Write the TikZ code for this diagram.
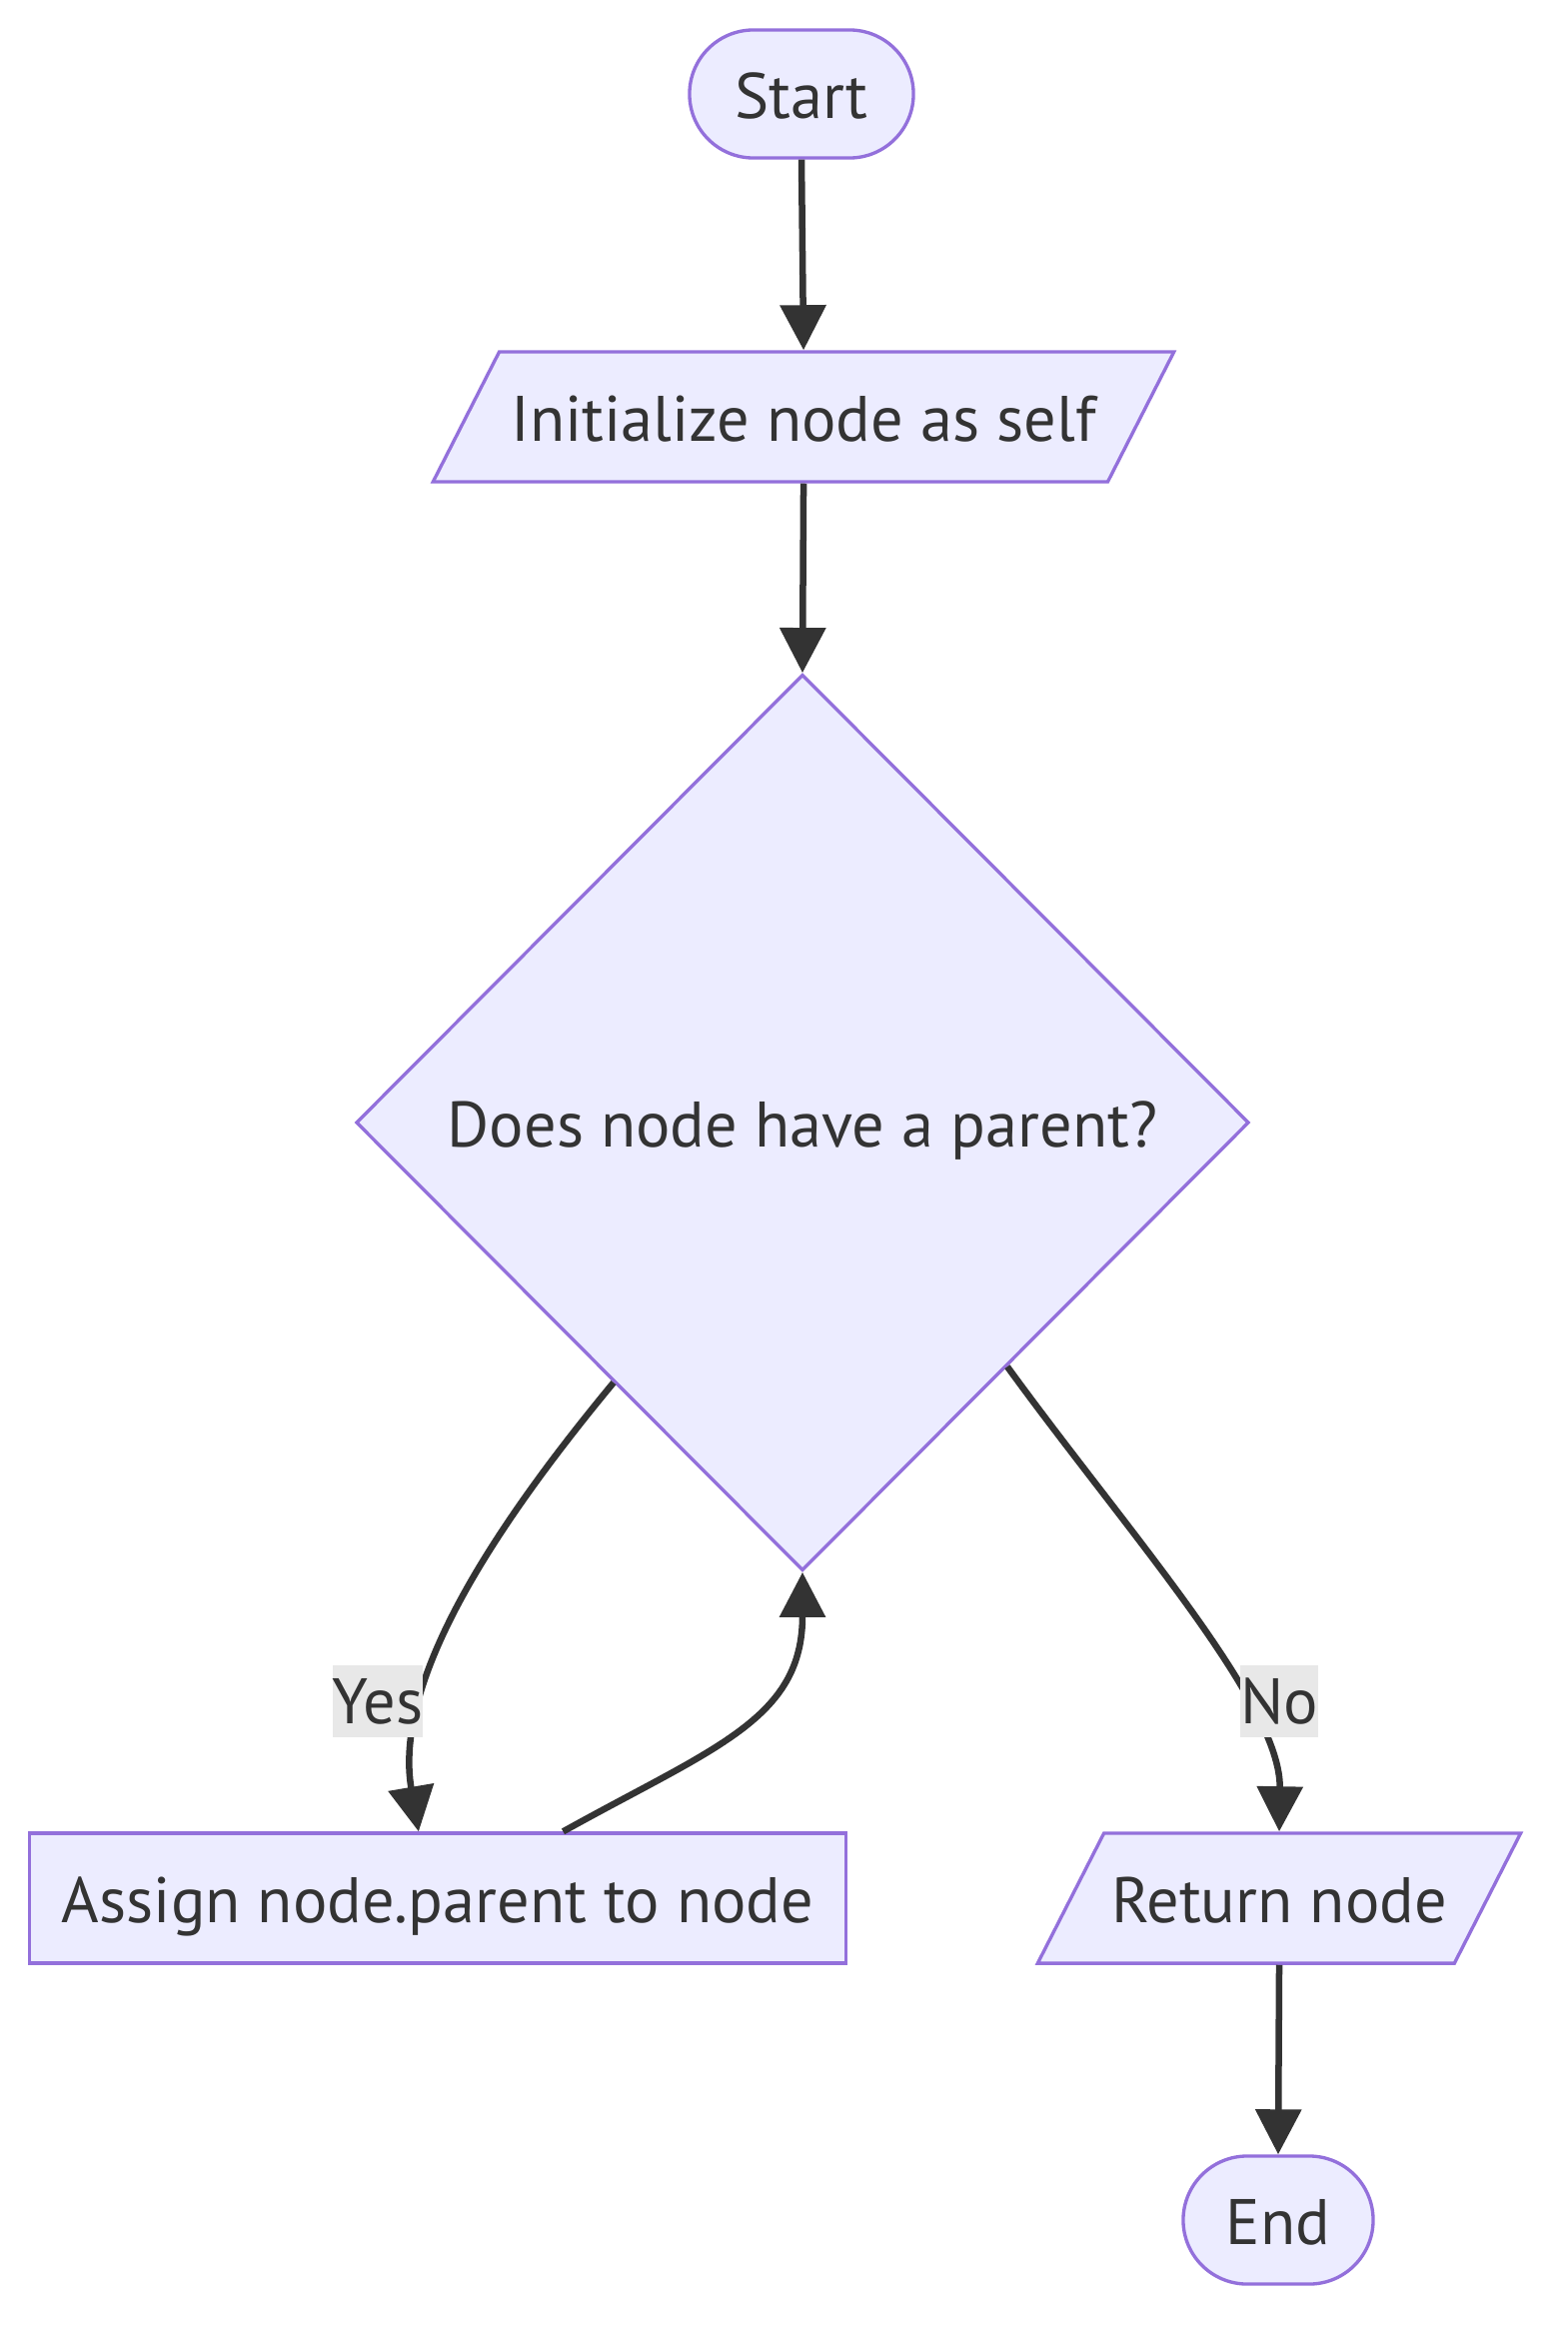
\documentclass[tikz,border=0pt]{standalone}
\usepackage{fontspec}
\setmainfont{PT Sans}
\usetikzlibrary{shapes.geometric,shapes.misc,arrows.meta}
\definecolor{nodefill}{HTML}{ECECFF}
\definecolor{nodeline}{HTML}{9370DB}
\definecolor{inkcol}{HTML}{333333}
\definecolor{labelbg}{HTML}{E8E8E8}
\tikzset{
  base/.style={draw=nodeline, fill=nodefill, line width=0.95pt, text=inkcol,
    font=\fontsize{18.3}{22}\selectfont, inner sep=0pt,
    text height=16.5pt, text depth=2.3pt},
  terminal/.style={base, rounded rectangle, minimum height=1.28cm},
  io/.style={base, trapezium, trapezium left angle=63, trapezium right angle=117,
    trapezium stretches body, inner ysep=9.1pt},
  process/.style={base, rectangle, minimum height=1.3cm},
  decision/.style={base, diamond, minimum width=8.93cm, minimum height=8.96cm},
  flow/.style={draw=inkcol, line width=1.85pt, -{Triangle[length=0.45cm,width=0.45cm]}},
  edgelabel/.style={fill=labelbg, text=inkcol, font=\fontsize{18.3}{22}\selectfont,
    inner xsep=0pt, minimum height=0.71cm}
}
\begin{document}
\begin{tikzpicture}[x=0.01cm, y=-0.01cm]
  \useasboundingbox (0,0) rectangle (1568,2342);
  % nodes
  \node[terminal, minimum width=2.24cm] (start) at (802,94) {Start};
  \node[io, minimum width=7.41cm] (init) at (804,417) {Initialize node as self};
  \node[decision] (dec) at (803,1123) {Does node have a parent?};
  \node[process, minimum width=8.17cm] (assign) at (438,1899) {Assign node.parent to node};
  \node[io, minimum width=4.83cm] (ret) at (1280,1899) {Return node};
  \node[terminal, minimum width=1.9cm] (end) at (1279,2221) {End};
  % connectors
  \draw[flow] (start.south) -- (init.north);
  \draw[flow] (init.south) -- (dec.north);
  \draw[flow] (dec.234) .. controls (484,1540) and (394,1687) .. (assign.106);
  \draw[flow] (assign.28) .. controls (715,1748) and (803,1720) .. (dec.south);
  \draw[flow] (dec.310) .. controls (1127,1531) and (1282,1704) .. (ret.north);
  \draw[flow] (ret.south) -- (end.north);
  % edge labels
  \node[edgelabel] (yes) at (378,1702) {Yes};
  \node[edgelabel] (no) at (1280,1702) {No};
\end{tikzpicture}
\end{document}
